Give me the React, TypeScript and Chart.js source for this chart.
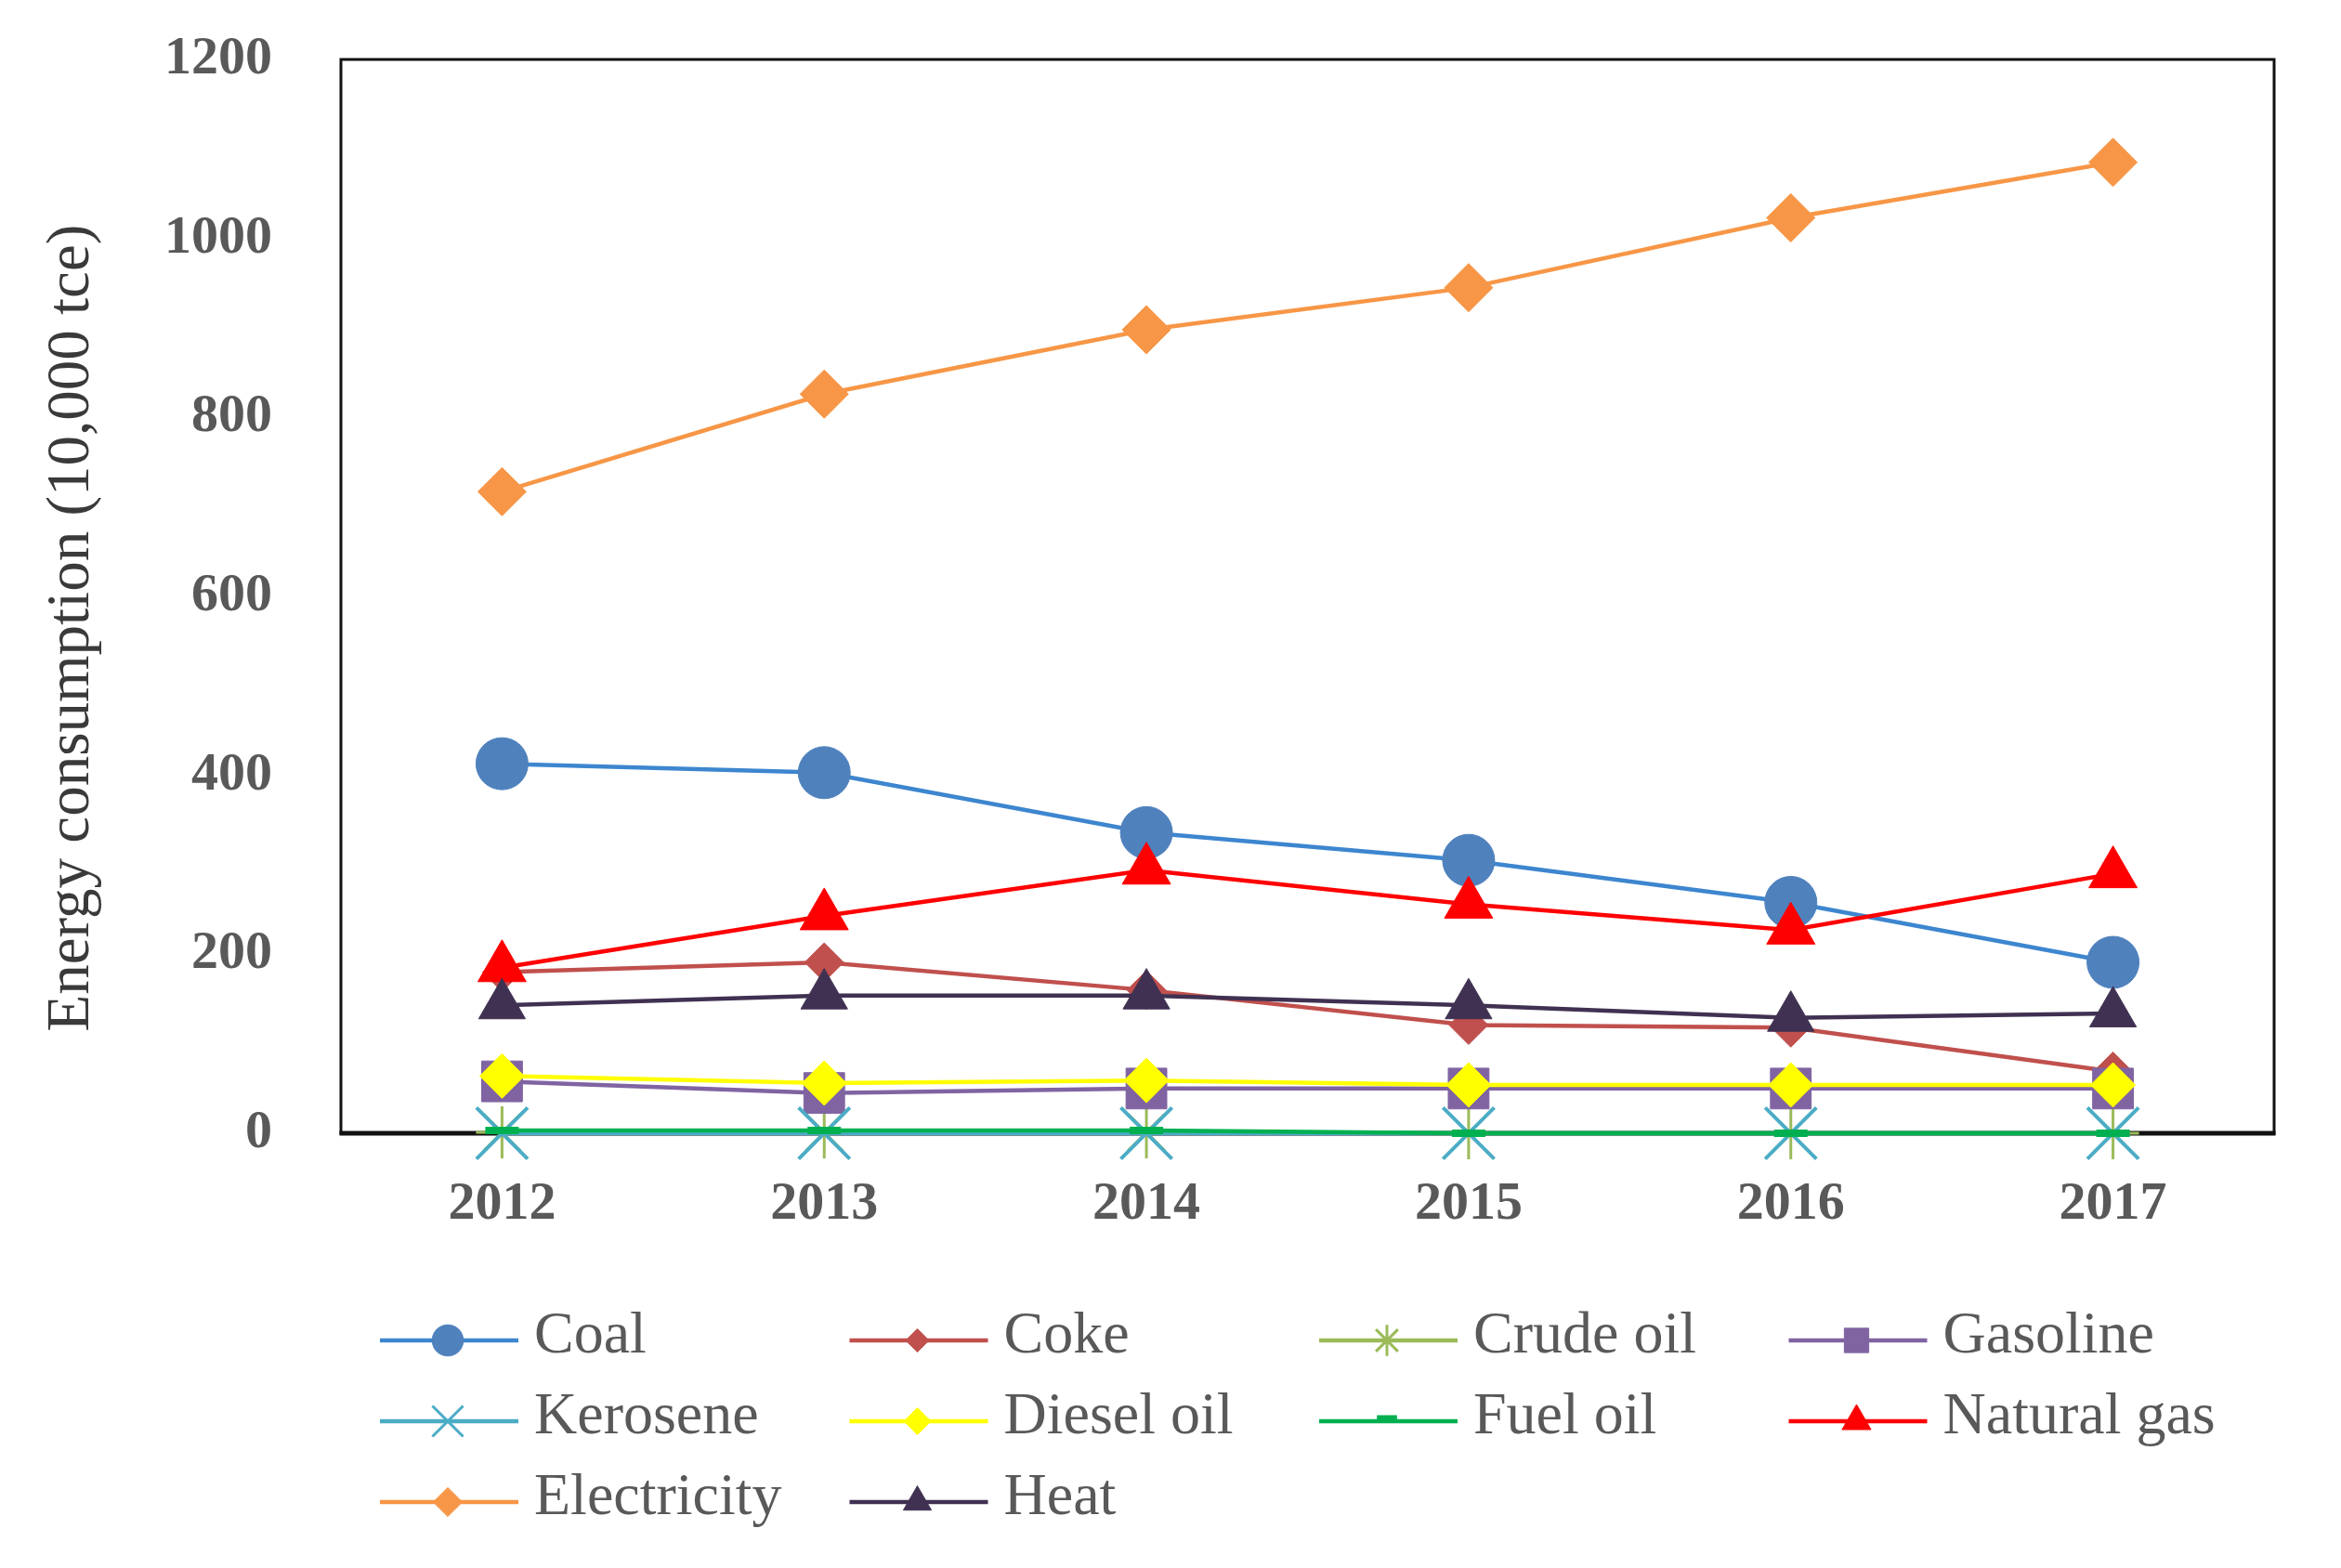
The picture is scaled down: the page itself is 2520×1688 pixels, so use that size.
import React, { useEffect, useRef } from 'react';
import { Chart, registerables } from 'chart.js';
import { drawPoint } from 'chart.js/helpers';

Chart.register(...registerables);

const categories = ['2012', '2013', '2014', '2015', '2016', '2017'];

const coal = [413, 403, 336, 305, 258, 191];
const coke = [180, 191, 160, 121, 118, 69];
const crudeOil = [1, 1, 1, 0, 0, 0];
const gasoline = [58, 45, 50, 50, 50, 50];
const kerosene = [0, 0, 0, 0, 0, 0];
const dieselOil = [64, 56, 59, 54, 54, 54];
const fuelOil = [3, 3, 3, 0, 0, 0];
const naturalGas = [185, 243, 294, 256, 227, 290];
const electricity = [717, 826, 898, 945, 1023, 1085];
const heat = [143, 154, 154, 143, 129, 134];

const seriesNames = ['Coal', 'Coke', 'Crude oil', 'Gasoline', 'Kerosene', 'Diesel oil', 'Fuel oil', 'Natural gas', 'Electricity', 'Heat'];
const seriesValues = [coal, coke, crudeOil, gasoline, kerosene, dieselOil, fuelOil, naturalGas, electricity, heat];
const lineColors = ['#3D86CF', '#C0504D', '#9BBB59', '#8064A2', '#4BACC6', '#FFFF00', '#00B050', '#FF0000', '#F79646', '#403152'];
const markerColors = ['#4F81BD', '#C0504D', '#9BBB59', '#8064A2', '#4BACC6', '#FFFF00', '#00B050', '#FF0000', '#F79646', '#403152'];
const markerStyles = ['circle', 'rectRot', 'star', 'rect', 'crossRot', 'rectRot', 'line', 'triangle', 'rectRot', 'triangle'];
const markerRadii = [28, 21, 28, 31, 39, 24, 18, 30, 26, 29];
const markerBorders = [1, 1, 3, 1, 4, 1, 8, 1, 1, 1];

const yTicks = [0, 200, 400, 600, 800, 1000, 1200];

const yTitle = 'Energy consumption (10,000 tce)';
const textGray = '#595959';

const boxPlugin = {
  id: 'plotBox',
  beforeDatasetsDraw(chart: any) {
    const { ctx, chartArea } = chart;
    const { left, right, top, bottom } = chartArea;
    ctx.save();
    ctx.strokeStyle = '#111111';
    ctx.lineWidth = 3;
    ctx.strokeRect(left, top, right - left, bottom - top);
    ctx.lineWidth = 5;
    ctx.beginPath();
    ctx.moveTo(left - 1.5, bottom);
    ctx.lineTo(right + 1.5, bottom);
    ctx.stroke();
    ctx.restore();
  },
};

const customPlugin = {
  id: 'customLegendTitle',
  afterDraw(chart: any) {
    const { ctx, chartArea } = chart;
    const { left, top, bottom } = chartArea;
    ctx.save();
    // y-axis title
    ctx.translate(left - 289, (top + bottom) / 2 + 34);
    ctx.rotate(-Math.PI / 2);
    ctx.font = '65px "Liberation Serif"';
    ctx.fillStyle = '#3a3a3a';
    ctx.textAlign = 'center';
    ctx.textBaseline = 'middle';
    ctx.fillText(yTitle, 0, 0);
    ctx.restore();

    // legend
    const legendLeft = left + 42;
    const colW = 505.5;
    const rowTop = bottom + 223;
    const rowH = 87;
    chart.data.datasets.forEach((ds: any, i: number) => {
      const col = i % 4;
      const row = Math.floor(i / 4);
      const x0 = legendLeft + col * colW;
      const y = rowTop + row * rowH;
      ctx.save();
      ctx.strokeStyle = lineColors[i];
      ctx.lineWidth = 4.5;
      ctx.beginPath();
      ctx.moveTo(x0, y);
      ctx.lineTo(x0 + 149, y);
      ctx.stroke();
      ctx.fillStyle = markerColors[i];
      ctx.strokeStyle = markerColors[i];
      const bw = markerStyles[i] === 'line' ? 7 : markerStyles[i] === 'crossRot' || markerStyles[i] === 'star' ? 3 : 1;
      ctx.lineWidth = bw;
      drawPoint(ctx, { pointStyle: markerStyles[i], radius: markerRadii[i] * 0.6, rotation: 0, borderWidth: bw }, x0 + 73, markerStyles[i] === 'line' ? y - 3 : y);
      ctx.fillStyle = textGray;
      ctx.font = '64px "Liberation Serif"';
      ctx.textAlign = 'left';
      ctx.textBaseline = 'middle';
      ctx.fillText(ds.label, x0 + 166, y - 4);
      ctx.restore();
    });
  },
};

export default function App() {
  const canvasRef = useRef<HTMLCanvasElement | null>(null);

  useEffect(() => {
    if (!canvasRef.current) return;
    const n = seriesNames.length;
    const chart = new Chart(canvasRef.current, {
      type: 'line',
      data: {
        labels: categories,
        datasets: seriesNames.map((name, i) => ({
          label: name,
          data: seriesValues[i],
          borderColor: lineColors[i],
          backgroundColor: markerColors[i],
          borderWidth: 4.5,
          pointStyle: markerStyles[i] as any,
          pointRadius: markerRadii[i],
          pointHoverRadius: markerRadii[i],
          pointBackgroundColor: markerColors[i],
          pointBorderColor: markerColors[i],
          pointBorderWidth: markerBorders[i],
          tension: 0,
          fill: false,
          clip: false as any,
          order: n - i,
        })),
      },
      options: {
        animation: false,
        responsive: true,
        maintainAspectRatio: false,
        devicePixelRatio: 1,
        layout: { padding: { left: 0, right: 72, top: 64, bottom: 348 } },
        plugins: {
          legend: { display: false },
          tooltip: { enabled: false },
          title: { display: false },
        },
        scales: {
          x: {
            type: 'category',
            offset: true,
            grid: { display: false, drawTicks: false },
            border: { display: false },
            ticks: {
              color: textGray,
              font: { family: '"Liberation Serif"', size: 58, weight: 'bold' },
              padding: 42,
              maxRotation: 0,
              autoSkip: false,
            },
            afterFit: (scale: any) => {
              scale.height = 120;
              scale.paddingLeft = 0;
              scale.paddingRight = 0;
            },
          },
          y: {
            type: 'linear',
            min: 0,
            max: 1200,
            grid: { display: false, drawTicks: false },
            border: { display: false },
            afterBuildTicks: (scale: any) => {
              scale.ticks = yTicks.map((v) => ({ value: v }));
            },
            ticks: {
              color: textGray,
              font: { family: '"Liberation Serif"', size: 58, weight: 'bold' },
              padding: 74,
              callback: (value: any) => String(value),
            },
            afterFit: (scale: any) => {
              scale.width = 367;
              scale.paddingTop = 0;
              scale.paddingBottom = 0;
            },
          },
        },
      },
      plugins: [boxPlugin, customPlugin],
    });
    return () => chart.destroy();
  }, []);

  return (
    <div style={{ position: 'fixed', left: 0, top: 0, width: 2520, height: 1688, background: '#ffffff' }}>
      <canvas ref={canvasRef} />
    </div>
  );
}
